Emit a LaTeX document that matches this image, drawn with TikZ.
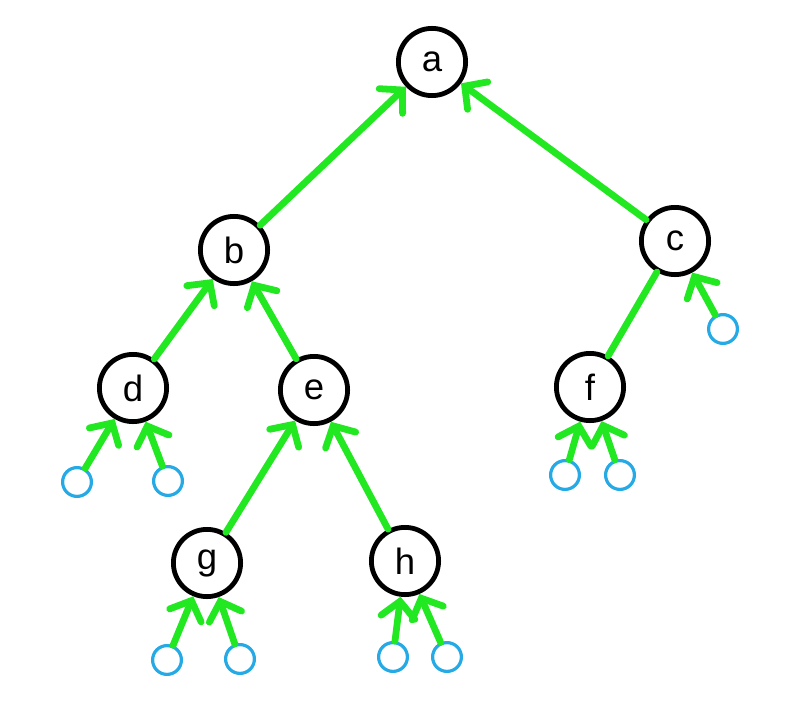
\documentclass[tikz,border=0pt]{standalone}
\usepackage{fontspec}
\setmainfont{Liberation Sans}
\usepackage{xcolor}
\usetikzlibrary{arrows.meta}
\definecolor{edgegreen}{RGB}{34,232,34}
\definecolor{nilblue}{RGB}{38,170,230}

\begin{document}
\begin{tikzpicture}[x=0.025cm, y=-0.025cm,
    vert/.style={circle, draw, line width=1.2mm, minimum size=1.68cm, inner sep=0pt, font=\fontsize{26}{31}\selectfont},
    nil/.style={circle, draw=nilblue, line width=0.8mm, minimum size=0.72cm, inner sep=0pt},
    edge/.style={edgegreen, line width=1.7mm, line cap=round},
    up/.style={edge, -{Straight Barb[length=4mm, width=8.5mm, line cap=round]}}]

    \useasboundingbox (0,0) rectangle (788,716);

    % Tree nodes
    \node[vert] (a) at (432,62) {a};
    \node[vert] (b) at (234,250) {b};
    \node[vert] (c) at (675,241) {c};
    \node[vert] (d) at (133,388) {d};
    \node[vert] (e) at (314,390) {e};
    \node[vert] (f) at (590,387) {f};
    \node[vert] (g) at (207,563) {g};
    \node[vert] (h) at (405,561) {h};

    % Nil leaves
    \node[nil] (dl) at (77,482) {};
    \node[nil] (dr) at (168,481) {};
    \node[nil] (cr) at (723,329) {};
    \node[nil] (fl) at (565,475) {};
    \node[nil] (fr) at (620,475) {};
    \node[nil] (gl) at (167,660) {};
    \node[nil] (gr) at (240,659) {};
    \node[nil] (hl) at (393,657) {};
    \node[nil] (hr) at (447,657) {};

    % Parent links
    \draw[up] (b) -- (a);
    \draw[up] (c) -- (a);
    \draw[up] (d) -- (b);
    \draw[up] (e) -- (b);
    \draw[edge] (f) -- (c);
    \draw[up] (g) -- (e);
    \draw[up] (h) -- (e);
    \draw[up] (cr) -- (c);
    \draw[up] (dl) -- (d);
    \draw[up] (dr) -- (d);
    \draw[up] (fl) -- (f);
    \draw[up] (fr) -- (f);
    \draw[up] (gl) -- (g);
    \draw[up] (gr) -- (g);
    \draw[up] (hl) -- (h);
    \draw[up] (hr) -- (h);
\end{tikzpicture}
\end{document}
